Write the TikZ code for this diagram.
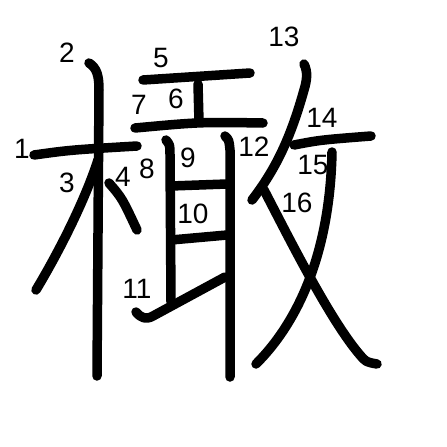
\documentclass[tikz,border=0pt]{standalone}
\usepackage{fontspec}
\setmainfont{Liberation Sans}
\usetikzlibrary{arrows}

\begin{document}
\begin{tikzpicture}[x=1pt,y=-1pt,
		stroke/.style={line width=9.5pt, line cap=round, line join=round},
		num/.style={font=\fontsize{28}{30}\selectfont, inner sep=0pt}]
			\useasboundingbox[fill=white](0,0) rectangle (447,447);
			% radical (tree)
			\draw[stroke](34,155) .. controls (70,150) .. (137,146);
			\draw[stroke](89,63) .. controls (97,68) and (99,76) .. (99,90) -- (97,376);
			\draw[stroke](98,160) .. controls (85,200) and (60,250) .. (36,290);
			\draw[stroke](109,183) .. controls (122,198) .. (137,230);
			% left half of the phonetic
			\draw[stroke](143,80) -- (250,73);
			\draw[stroke](198,84) -- (199,122);
			\draw[stroke](135,128) .. controls (200,122) .. (263,123);
			\draw[stroke](166,140) .. controls (170,145) .. (170,155) -- (171,302);
			\draw[stroke](171,186) -- (227,184);
			\draw[stroke](171,240) -- (227,235);
			\draw[stroke](136,312) .. controls (141,318) and (146,320) .. (153,316) -- (225,277);
			\draw[stroke](225,136) .. controls (229,140) .. (230,150) -- (230,377);
			% right half of the phonetic
			\draw[stroke](304,64) .. controls (308,72) and (307,80) .. (304,90) .. controls (290,140) and (275,170) .. (252,200);
			\draw[stroke](294,145) .. controls (320,140) .. (371,136);
			\draw[stroke](332,152) .. controls (330,250) and (300,320) .. (256,364);
			\draw[stroke](264,190) .. controls (290,240) and (330,320) .. (360,355) .. controls (366,362) .. (377,364);
			% stroke numbers
			\node[num] (n1) at (22,149) {1};
			\node[num] (n2) at (67,53) {2};
			\node[num] (n3) at (67,183) {3};
			\node[num] (n4) at (123,177) {4};
			\node[num] (n5) at (161,58) {5};
			\node[num] (n6) at (176,99) {6};
			\node[num] (n7) at (139,105) {7};
			\node[num] (n8) at (147,169) {8};
			\node[num] (n9) at (188,158) {9};
			\node[num] (n10) at (193,214) {10};
			\node[num] (n11) at (137,289) {11};
			\node[num] (n12) at (254,147) {12};
			\node[num] (n13) at (284,37) {13};
			\node[num] (n14) at (322,118) {14};
			\node[num] (n15) at (313,165) {15};
			\node[num] (n16) at (297,203) {16};
		\end{tikzpicture}
\end{document}
